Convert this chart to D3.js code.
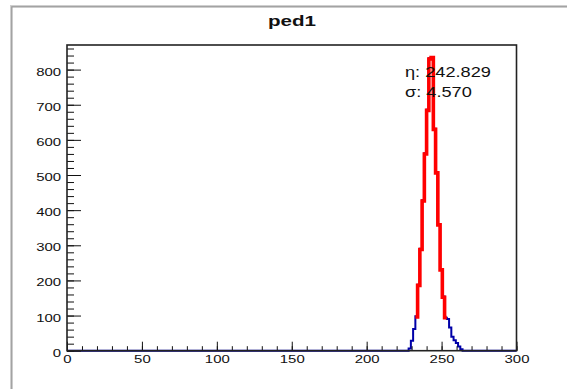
<!DOCTYPE html>
<html>
<head>
<meta charset="utf-8">
<script src="https://cdn.jsdelivr.net/npm/d3@7"></script>
<style>
  html, body { margin: 0; padding: 0; background: #fff; }
  svg { display: block; }
  text { font-family: "Liberation Sans", Arial, Helvetica, sans-serif; fill: #111; }
</style>
</head>
<body>
<svg id="chart" width="567" height="389"></svg>
<script>
// Histogram "ped1": 1.5-unit bins, only non-empty bins listed
const binWidth = 1.5;
const binLows = [228, 229.5, 231, 232.5, 234, 235.5, 237, 238.5, 240, 241.5, 243, 244.5,
                 246, 247.5, 249, 250.5, 252, 253.5, 255, 256.5, 258, 259.5, 261, 262.5];
const counts  = [6, 28, 62, 98, 188, 290, 428, 562, 686, 832, 836, 632,
                 508, 360, 232, 154, 94, 90, 66, 40, 30, 22, 12, 4];

// Gaussian fit drawn over the fitted range
const fitBinLows = [232.5, 234, 235.5, 237, 238.5, 240, 241.5, 243, 244.5, 246, 247.5, 249, 250.5, 252];
const fitCounts  = [96, 186, 288, 426, 560, 684, 830, 834, 630, 506, 358, 230, 152, 94];
const fitMean = 242.829;
const fitSigma = 4.570;

const title = "ped1";
const xTickValues = [0, 50, 100, 150, 200, 250, 300];
const yTickValues = [0, 100, 200, 300, 400, 500, 600, 700, 800];
const xDomain = [0, 300];
const yDomain = [0, 870];

const svg = d3.select("#chart");
const frame = { left: 67, right: 516.5, top: 45, bottom: 350.7 };
const stretch = "scale(1.3,1)";

// canvas border
svg.append("rect").attr("x", 10.5).attr("y", 5.5).attr("width", 700).attr("height", 500)
  .attr("fill", "#fff").attr("stroke", "#cfcfcf").attr("stroke-width", 1);
svg.append("rect").attr("x", 11.8).attr("y", 6.8).attr("width", 700).attr("height", 500)
  .attr("fill", "none").attr("stroke", "#9a9a9a").attr("stroke-width", 1.4);

const x = d3.scaleLinear().domain(xDomain).range([frame.left, frame.right]);
const y = d3.scaleLinear().domain(yDomain).range([frame.bottom, frame.top]);

// title
svg.append("text")
  .attr("transform", `translate(292,25.5) scale(1.33,1)`)
  .attr("text-anchor", "middle")
  .attr("font-size", 15.5).attr("font-weight", "bold")
  .text(title);

// histogram outline (blue)
const histPts = [[xDomain[0], 0], [binLows[0], 0]];
binLows.forEach((lo, i) => histPts.push([lo, counts[i]]));
const histEnd = binLows[binLows.length - 1] + binWidth;
histPts.push([histEnd, 0], [xDomain[1], 0]);

const step = d3.line().x(d => x(d[0])).y(d => y(d[1])).curve(d3.curveStepAfter);

svg.append("path").datum(histPts)
  .attr("d", step).attr("fill", "none")
  .attr("stroke", "#0000a8").attr("stroke-width", 2);

// fit (red)
const fitPts = fitBinLows.map((lo, i) => [lo, fitCounts[i]]);
fitPts.push([fitBinLows[fitBinLows.length - 1] + binWidth, fitCounts[fitCounts.length - 1]]);
svg.append("path").datum(fitPts)
  .attr("d", step).attr("fill", "none")
  .attr("stroke", "#ff0000").attr("stroke-width", 3.6)
  .attr("stroke-linejoin", "miter");

// axes
const xMinor = d3.range(0, 301, 10);
const yMinor = d3.range(0, 871, 20);

const gxMinor = svg.append("g").attr("transform", `translate(0,${frame.bottom})`)
  .call(d3.axisBottom(x).tickValues(xMinor).tickSizeInner(-4.5).tickSizeOuter(0).tickFormat(""));
const gx = svg.append("g").attr("transform", `translate(0,${frame.bottom})`)
  .call(d3.axisBottom(x).tickValues(xTickValues).tickSizeInner(-9).tickSizeOuter(0).tickPadding(4));
const gyMinor = svg.append("g").attr("transform", `translate(${frame.left},0)`)
  .call(d3.axisLeft(y).tickValues(yMinor).tickSizeInner(-7).tickSizeOuter(0).tickFormat(""));
const gy = svg.append("g").attr("transform", `translate(${frame.left},0)`)
  .call(d3.axisLeft(y).tickValues(yTickValues).tickSizeInner(-14).tickSizeOuter(0).tickPadding(4.5));

[gxMinor, gx, gyMinor, gy].forEach(g => {
  g.select(".domain").remove();
  g.selectAll(".tick line").attr("stroke", "#111").attr("stroke-width", 1);
});
[gx, gy].forEach(g => {
  g.selectAll(".tick text")
    .attr("font-family", "Liberation Sans, Arial, sans-serif")
    .attr("font-size", 11.5).attr("fill", "#222")
    .attr("transform", stretch);
});
gy.selectAll(".tick text").attr("dy", "0.48em");

// frame
svg.append("rect")
  .attr("x", frame.left).attr("y", frame.top)
  .attr("width", frame.right - frame.left).attr("height", frame.bottom - frame.top)
  .attr("fill", "none").attr("stroke", "#222").attr("stroke-width", 1.6);

// fit parameters
const statX = 405;
svg.append("text")
  .attr("transform", `translate(${statX},77.3) ${stretch}`)
  .attr("font-size", 14)
  .text(`\u03B7: ${fitMean.toFixed(3)}`);
svg.append("text")
  .attr("transform", `translate(${statX},97) ${stretch}`)
  .attr("font-size", 14)
  .text(`\u03C3: ${fitSigma.toFixed(3)}`);
</script>
</body>
</html>
